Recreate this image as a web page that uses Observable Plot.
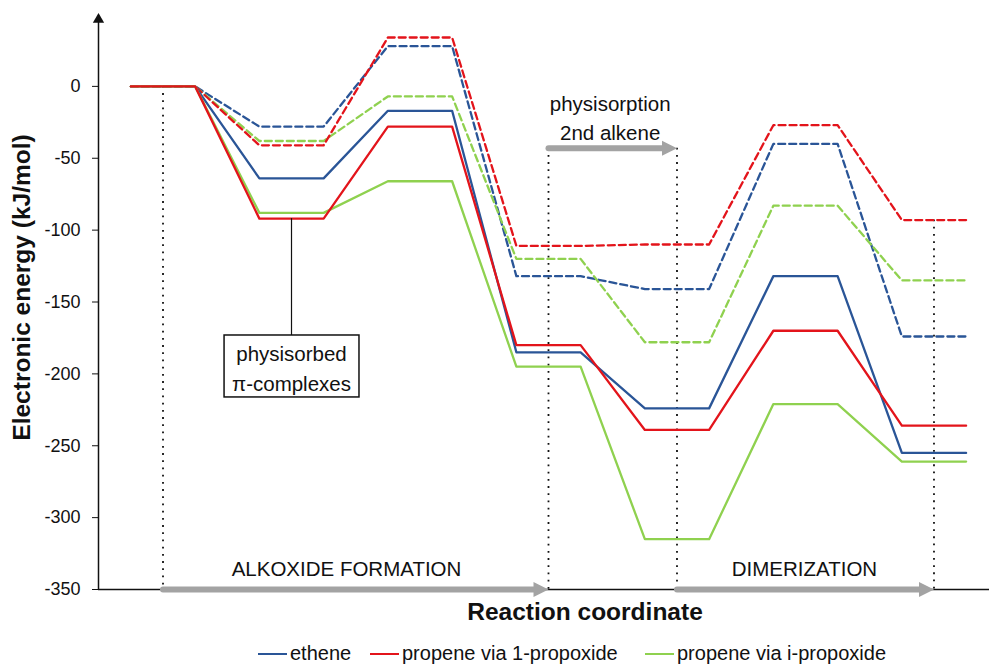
<!DOCTYPE html>
<html><head><meta charset="utf-8">
<script src="https://cdn.jsdelivr.net/npm/d3@7"></script>
<script src="https://cdn.jsdelivr.net/npm/@observablehq/plot@0.6"></script>
<style>
body{margin:0;background:#fff;font-family:"Liberation Sans",Arial,sans-serif;}
#wrap{position:relative;width:989px;height:667px;overflow:hidden;background:#fff;}
.leg{position:absolute;top:640px;height:27px;display:flex;align-items:center;font-size:20px;color:#111;white-space:nowrap;}
.sw{display:inline-block;width:29px;height:0;border-top:2.5px solid;margin-right:3px;}
</style></head><body><div id="wrap"></div>
<script>
// ---- data ----
const stages = [0, 1, 2, 3, 4, 5, 6];
const seriesNames = ["ethene", "propene via 1-propoxide", "propene via i-propoxide"];
const seriesColors = ["#2a5597", "#e3141b", "#8fd14f"];
// solid profiles
const etheneSolid = [0, -64, -17, -185, -224, -132, -255];
const propene1Solid = [0, -92, -28, -180, -239, -170, -236];
const propeneISolid = [0, -88, -66, -195, -315, -221, -261];
// dashed profiles
const etheneDashed = [0, -28, 28, -132, -141, -40, -174];
const propene1Dashed = [0, -41, 34, -111, -110, -27, -93];
const propeneIDashed = [0, -38, -7, -120, -178, -83, -135];
const yTicks = [0, -50, -100, -150, -200, -250, -300, -350];
// annotations
const stageArrows = [
  {x1: 0, x2: 3, y: -350, label: "ALKOXIDE FORMATION", lx: 1.428, ly: -334},
  {x1: 4, x2: 6, y: -350, label: "DIMERIZATION", lx: 4.992, ly: -334},
  {x1: 3, x2: 4, y: -43, label: "physisorption\n2nd alkene", lx: 3.48, ly: -21}
];
const dottedGuides = [{x: 0, top: 0}, {x: 3, top: -43}, {x: 4, top: -43}, {x: 6, top: -93}];
const boxNote = {x: 1, from: propene1Solid[1], x1: 0.479, x2: 1.529, y1: -173.3, y2: -216.4, text: "physisorbed\nπ-complexes"};

// ---- build rows ----
const rows = [];
function addSeries(name, kind, vals) {
  vals.forEach((v, i) => {
    rows.push({series: name, kind, key: name + kind, x: stages[i] - 0.25, y: v});
    rows.push({series: name, kind, key: name + kind, x: stages[i] + 0.25, y: v});
  });
}
addSeries(seriesNames[0], "dashed", etheneDashed);
addSeries(seriesNames[2], "dashed", propeneIDashed);
addSeries(seriesNames[1], "dashed", propene1Dashed);
addSeries(seriesNames[0], "solid", etheneSolid);
addSeries(seriesNames[2], "solid", propeneISolid);
addSeries(seriesNames[1], "solid", propene1Solid);

const xDomain = [-0.502, 6.432];
const gray = "#a3a3a3";
const headSymbol = {draw(ctx) { ctx.moveTo(0, 0); ctx.lineTo(-15, -7.5); ctx.lineTo(-15, 7.5); ctx.closePath(); }};
const font = "'Liberation Sans', Arial, sans-serif";

const chart = Plot.plot({
  width: 989, height: 640,
  marginLeft: 98, marginRight: 0, marginTop: 14, marginBottom: 51,
  style: {fontFamily: font, color: "#111", background: "white"},
  x: {domain: xDomain, axis: null},
  y: {domain: [-350, 50]},
  color: {domain: seriesNames, range: seriesColors},
  marks: [
    Plot.axisY({ticks: yTicks, tickFormat: d => String(d), tickSize: 6, tickPadding: 12, fontSize: 18, label: null, stroke: "#111"}),
    // dotted guides
    Plot.ruleX(dottedGuides, {x: "x", y1: "top", y2: -350, stroke: "#111", strokeWidth: 1.8, strokeDasharray: "1.8,5.4"}),
    // axes
    Plot.ruleY([-350], {x1: xDomain[0], x2: xDomain[1], stroke: "#111", strokeWidth: 1.5}),
    Plot.ruleX([xDomain[0]], {y1: -350, y2: 46, stroke: "#111", strokeWidth: 1.5}),
    Plot.dot([xDomain[0]], {x: d => d, y: 50, symbol: "triangle", r: 4.2, fill: "#111", dy: 5}),
    // stage arrows
    Plot.arrow(stageArrows, {x1: "x1", x2: "x2", y1: "y", y2: "y", stroke: gray, strokeWidth: 6, headLength: 0, insetEnd: 13}),
    Plot.dot(stageArrows, {x: "x2", y: "y", symbol: headSymbol, fill: gray, stroke: "none"}),
    Plot.text(stageArrows, {x: "lx", y: "ly", text: "label", fontSize: 20.5, lineHeight: 1.42, fill: "#111"}),
    // profiles
    Plot.line(rows.filter(d => d.kind === "dashed"), {x: "x", y: "y", z: "key", stroke: "series", strokeWidth: 2.3, strokeDasharray: "7,4"}),
    Plot.line(rows.filter(d => d.kind === "solid"), {x: "x", y: "y", z: "key", stroke: "series", strokeWidth: 2.3}),
    // physisorbed note
    Plot.ruleX([boxNote], {x: "x", y1: "from", y2: "y1", stroke: "#111", strokeWidth: 1.2}),
    Plot.rect([boxNote], {x1: "x1", x2: "x2", y1: "y1", y2: "y2", fill: "white", stroke: "#111", strokeWidth: 1.5}),
    Plot.text([boxNote], {x: "x", y: d => (d.y1 + d.y2) / 2, text: "text", fontSize: 20.5, lineHeight: 1.46, fill: "#111"}),
    // axis titles
    Plot.text(["Electronic energy (kJ/mol)"], {frameAnchor: "left", textAnchor: "middle", lineAnchor: "middle", dx: -76, dy: -14.5, rotate: -90, fontSize: 24.5, fontWeight: "bold", fill: "#111"}),
    Plot.text(["Reaction coordinate"], {frameAnchor: "bottom", textAnchor: "middle", lineAnchor: "middle", dx: 41, dy: 23, fontSize: 24.5, fontWeight: "bold", fill: "#111"})
  ]
});
const wrap = document.getElementById("wrap");
wrap.appendChild(chart);
const legendLefts = [258, 370, 645];
seriesNames.forEach((name, i) => {
  const item = document.createElement("div");
  item.className = "leg";
  item.style.left = legendLefts[i] + "px";
  const sw = document.createElement("span");
  sw.className = "sw";
  sw.style.borderTopColor = seriesColors[i];
  const t = document.createElement("span");
  t.textContent = name;
  item.appendChild(sw); item.appendChild(t);
  wrap.appendChild(item);
});
</script></body></html>
